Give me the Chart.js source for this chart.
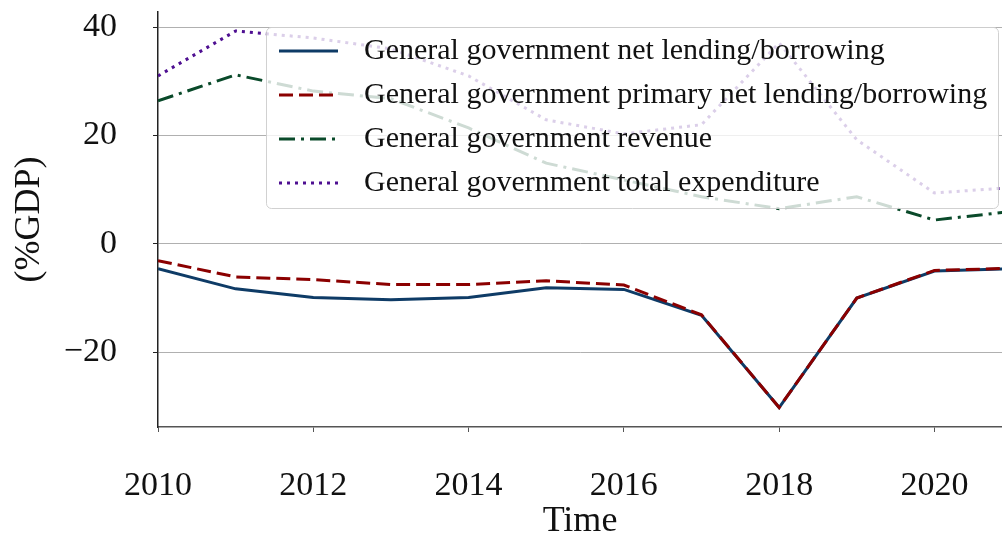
<!DOCTYPE html>
<html>
<head>
<meta charset="utf-8">
<script src="https://cdn.jsdelivr.net/npm/chart.js@4/dist/chart.umd.min.js"></script>
<style>
html,body{margin:0;padding:0;background:#fff;}
canvas{display:block;}
</style>
</head>
<body>
<canvas id="c" width="1002" height="534"></canvas>
<script>
const years = [2010, 2011, 2012, 2013, 2014, 2015, 2016, 2017, 2018, 2019, 2020, 2021];
const netLending = [-4.6, -8.3, -9.9, -10.3, -9.9, -8.1, -8.4, -13.2, -30.2, -10.0, -5.0, -4.6];
const primaryNetLending = [-3.1, -6.1, -6.6, -7.5, -7.5, -6.8, -7.6, -13.1, -30.2, -10.0, -4.9, -4.5];
const revenue = [26.4, 31.2, 28.2, 26.8, 21.4, 14.9, 11.8, 8.7, 6.5, 8.7, 4.4, 6.0];
const expenditure = [31.0, 39.3, 38.0, 36.0, 31.0, 22.9, 20.3, 22.0, 37.1, 19.2, 9.4, 10.4];
const seriesLabels = [
  'General government net lending/borrowing',
  'General government primary net lending/borrowing',
  'General government revenue',
  'General government total expenditure'
];
const xTicks = [2010, 2012, 2014, 2016, 2018, 2020];
const yTicks = [-20, 0, 20, 40];
const xTitle = 'Time';
const yTitle = '(%GDP)';

const FONT = "'Liberation Serif', 'DejaVu Serif', serif";

function pts(arr){ return years.map((y,i)=>({x:y, y:arr[i]})); }

const styles = [
  {color:'#0e3b66', dash:[]},
  {color:'#8b0000', dash:[14,6]},
  {color:'#0a4a2a', dash:[16,6,3,6]},
  {color:'#4e0f91', dash:[3,5]}
];
const seriesData = [netLending, primaryNetLending, revenue, expenditure];

const datasets = seriesData.map((d,i)=>({
  label: seriesLabels[i],
  data: pts(d),
  borderColor: styles[i].color,
  backgroundColor: styles[i].color,
  borderDash: styles[i].dash,
  borderWidth: 3,
  pointRadius: 0,
  tension: 0,
  fill: false,
  order: seriesData.length - i
}));

const legendPlugin = {
  id: 'boxLegend',
  afterDraw(chart){
    const ctx = chart.ctx;
    const x0 = 266, y0 = 27, w = 732, h = 181;
    ctx.save();
    ctx.beginPath();
    ctx.roundRect(x0+0.5, y0+0.5, w, h, 5);
    ctx.fillStyle = 'rgba(255,255,255,0.8)';
    ctx.fill();
    ctx.strokeStyle = 'rgba(204,204,204,0.9)';
    ctx.lineWidth = 1;
    ctx.stroke();
    chart.data.datasets.forEach((ds,i)=>{
      const yy = 51 + i*44;
      ctx.beginPath();
      ctx.setLineDash(ds.borderDash);
      ctx.strokeStyle = ds.borderColor;
      ctx.lineWidth = 3;
      ctx.moveTo(279, yy);
      ctx.lineTo(338, yy);
      ctx.stroke();
      ctx.setLineDash([]);
      ctx.fillStyle = '#111';
      ctx.font = '30px ' + FONT;
      ctx.textBaseline = 'middle';
      ctx.textAlign = 'left';
      ctx.fillText(ds.label, 364, yy);
    });
    ctx.restore();
  }
};

new Chart(document.getElementById('c'), {
  type: 'line',
  data: { datasets },
  plugins: [legendPlugin],
  options: {
    responsive: false,
    animation: false,
    devicePixelRatio: 1,
    layout: { padding: { top: 12, right: 0, left: 0, bottom: 0 } },
    plugins: { legend: { display: false }, tooltip: { enabled: false } },
    scales: {
      x: {
        type: 'linear',
        min: 2010,
        max: 2020.87,
        afterFit(s){ s.height = 107; s.paddingLeft = 0; s.paddingRight = 0; },
        afterBuildTicks(s){ s.ticks = xTicks.map(v=>({value:v})); },
        ticks: {
          font: { family: FONT, size: 34 },
          color: '#111',
          padding: 34,
          maxRotation: 0,
          callback: v => String(v)
        },
        grid: { drawOnChartArea: false, drawTicks: true, tickLength: 5, tickColor: '#555' },
        border: { color: '#555', width: 1.5 },
        title: { display: true, text: xTitle, color: '#111', font: { family: FONT, size: 36 }, padding: { top: 0, bottom: -9 } }
      },
      y: {
        type: 'linear',
        min: -33.8,
        max: 42.8,
        afterFit(s){ s.width = 158; s.paddingTop = 0; s.paddingBottom = 0; },
        afterBuildTicks(s){ s.ticks = yTicks.map(v=>({value:v})); },
        ticks: {
          font: { family: FONT, size: 34 },
          color: '#111',
          padding: 36,
          callback: v => String(v).replace('-', '\u2212')
        },
        grid: { color: '#b0b0b0', lineWidth: 1, drawTicks: true, tickLength: 5, tickColor: '#222' },
        border: { color: '#222', width: 1.5 },
        title: { display: true, text: yTitle, color: '#111', font: { family: FONT, size: 36 }, padding: { top: 8, bottom: 0 } }
      }
    }
  }
});
</script>
</body>
</html>
